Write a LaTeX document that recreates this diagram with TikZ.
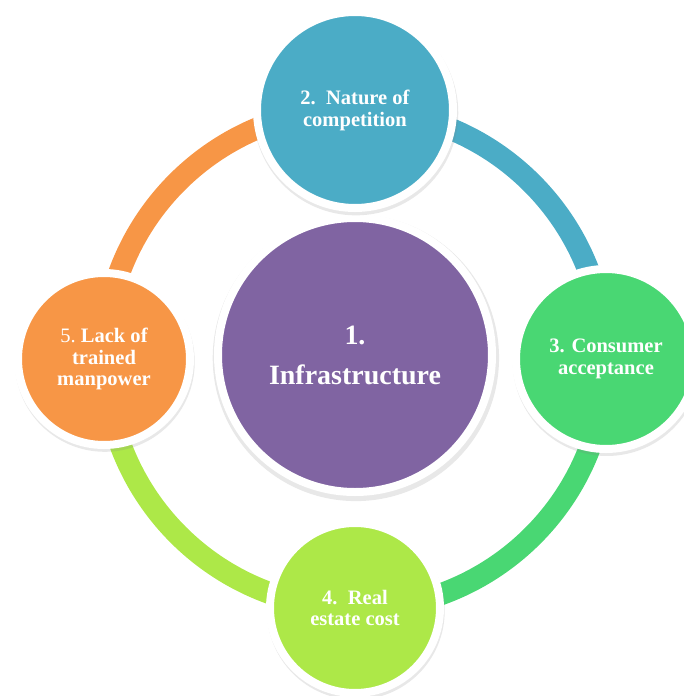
\documentclass[tikz,border=0pt]{standalone}
\usepackage{fontspec}
\setmainfont{Liberation Serif}
\usepackage{xcolor}
\usepackage{tikz}
\usetikzlibrary{positioning,backgrounds,shadows}

\definecolor{cblue}{HTML}{4BACC6}
\definecolor{cgreen}{HTML}{49D773}
\definecolor{clime}{HTML}{ADE848}
\definecolor{corange}{HTML}{F79646}
\definecolor{cpurple}{HTML}{8064A2}

\begin{document}
\begin{tikzpicture}[
  stage/.style={circle, draw=white, line width=0.2cm, inner sep=0pt, text=white, align=center,
                font=\bfseries\fontsize{14.6pt}{15.6pt}\selectfont,
                drop shadow={shadow scale=1.045, shadow xshift=0.6pt, shadow yshift=-2pt, opacity=0.18}},
  hub/.style={stage, font=\bfseries\fontsize{19.9pt}{28.5pt}\selectfont},
  ring/.style={line width=0.55cm}
]
\useasboundingbox (-8.875,-8.425) rectangle (8.225,8.975);

% Centre
\node[hub, fill=cpurple, minimum size=6.85cm] (infra) at (0,0.1) {1.\\Infrastructure};

% Outer stages
\node[stage, fill=cblue, minimum size=4.9cm] (comp) at (90:6.225) {2.\ ~Nature of\\competition};
\node[stage, fill=cgreen, minimum size=4.5cm] (cons) at (0:6.275) {3. Consumer\\acceptance};
\node[stage, fill=clime, minimum size=4.25cm] (cost) at (-90:6.225) {4.\ ~Real\\estate cost};
\node[stage, fill=corange, minimum size=4.3cm] (lack) at (180:6.275) {\mdseries 5.\bfseries\ Lack of\\trained\\manpower};

% Ring between stages
\begin{scope}[on background layer]
  \draw[ring, cblue] (comp.center) arc[start angle=90, end angle=0, radius=6.25];
  \draw[ring, cgreen] (cons.center) arc[start angle=0, end angle=-90, radius=6.25];
  \draw[ring, clime] (cost.center) arc[start angle=-90, end angle=-180, radius=6.25];
  \draw[ring, corange] (lack.center) arc[start angle=180, end angle=90, radius=6.25];
\end{scope}

\end{tikzpicture}
\end{document}
